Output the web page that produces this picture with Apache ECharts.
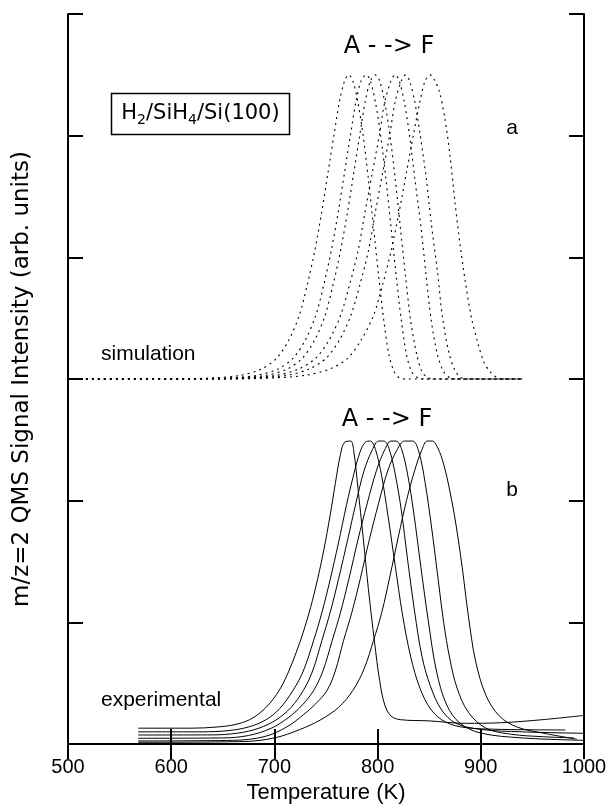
<!DOCTYPE html>
<html>
<head>
<meta charset="utf-8">
<script src="https://cdn.jsdelivr.net/npm/echarts@6/dist/echarts.min.js"></script>
<style>html,body{margin:0;padding:0;background:#fff}#c{width:608px;height:808px}</style>
</head>
<body>
<div id="c"></div>
<script>
// ---- data ----
const xTicks = [500, 600, 700, 800, 900, 1000];
const curveNames = ['A', 'B', 'C', 'D', 'E', 'F'];
const simOffset = 3; // simulation panel sits above the experimental one

// simulation (relative intensity above panel baseline), [T (K), value]
const simA = [[500,0],[602,0],[642,0.01],[667,0.03],[687,0.08],[702,0.17],[714,0.32],[724,0.52],[732,0.78],[739,1.05],[746,1.38],[752,1.7],[758,2.02],[763,2.28],[768,2.45],[772,2.5],[776,2.45],[781,2.27],[786,2.0],[791,1.65],[796,1.25],[801,0.85],[806,0.48],[811,0.2],[816,0.06],[821,0.01],[827,0],[940,0]];
const simB = [[500,0],[615,0],[657,0.01],[683,0.03],[703,0.08],[718,0.17],[730,0.32],[740,0.52],[748,0.78],[755,1.05],[762,1.38],[768,1.7],[774,2.02],[779,2.28],[784,2.45],[789,2.5],[793,2.45],[798,2.27],[803,2.0],[808,1.65],[813,1.25],[818,0.85],[823,0.48],[828,0.2],[833,0.06],[839,0.01],[845,0],[940,0]];
const simC = [[500,0],[625,0],[666,0.01],[692,0.03],[712,0.08],[727,0.17],[739,0.32],[749,0.52],[757,0.78],[764,1.05],[771,1.38],[777,1.7],[783,2.02],[788,2.28],[793,2.45],[798,2.5],[802,2.45],[807,2.27],[812,2.0],[817,1.65],[822,1.25],[827,0.85],[832,0.48],[838,0.2],[843,0.06],[849,0.01],[855,0],[940,0]];
const simD = [[500,0],[635,0],[674,0.01],[702,0.03],[723,0.08],[740,0.17],[753,0.32],[764,0.52],[773,0.78],[781,1.05],[788,1.38],[795,1.7],[802,2.02],[807,2.28],[813,2.45],[817,2.5],[821,2.45],[826,2.27],[831,2.0],[836,1.65],[842,1.25],[847,0.85],[852,0.48],[858,0.2],[864,0.06],[870,0.01],[877,0],[940,0]];
const simE = [[500,0],[645,0],[684,0.01],[712,0.03],[733,0.08],[750,0.17],[763,0.32],[774,0.52],[783,0.78],[791,1.05],[798,1.38],[805,1.7],[812,2.02],[817,2.28],[823,2.45],[827,2.5],[831,2.45],[836,2.28],[841,2.02],[847,1.66],[852,1.28],[858,0.88],[863,0.5],[869,0.22],[875,0.07],[881,0.01],[888,0],[940,0]];
const simF = [[500,0],[655,0],[701,0.01],[730,0.03],[753,0.08],[771,0.17],[784,0.32],[796,0.52],[805,0.78],[813,1.05],[821,1.38],[828,1.7],[835,2.02],[841,2.28],[846,2.45],[851,2.5],[855,2.46],[860,2.36],[865,2.15],[870,1.85],[875,1.45],[880,1.1],[885,0.8],[891,0.5],[897,0.3],[903,0.14],[909,0.06],[916,0.01],[923,0],[940,0]];

// experimental, [T (K), value]
const expA = [[568,0.13],[620,0.13],[645,0.14],[662,0.16],[676,0.2],[688,0.27],[698,0.36],[706,0.46],[714,0.6],[721,0.75],[728,0.92],[735,1.12],[742,1.36],[748,1.6],[754,1.88],[759,2.14],[764,2.38],[768,2.48],[774,2.49],[777,2.4],[781,2.1],[786,1.7],[791,1.28],[797,0.84],[802,0.52],[807,0.32],[813,0.23],[822,0.2],[850,0.19],[885,0.17],[920,0.175],[960,0.2],[1000,0.235]];
const expB = [[568,0.10],[630,0.10],[655,0.11],[675,0.14],[692,0.2],[705,0.29],[718,0.44],[728,0.6],[738,0.85],[746,1.08],[754,1.35],[762,1.65],[770,1.97],[777,2.22],[783,2.4],[788,2.48],[793,2.49],[798,2.42],[804,2.2],[810,1.88],[817,1.47],[824,1.07],[832,0.72],[841,0.46],[852,0.28],[866,0.18],[885,0.135],[920,0.12],[950,0.117],[982,0.115]];
const expC = [[568,0.074],[640,0.075],[665,0.09],[685,0.13],[702,0.2],[716,0.3],[728,0.44],[737,0.6],[746,0.85],[754,1.08],[762,1.35],[771,1.68],[779,1.98],[787,2.25],[795,2.42],[801,2.49],[806,2.49],[811,2.43],[817,2.22],[823,1.92],[829,1.52],[836,1.08],[843,0.72],[851,0.48],[862,0.28],[876,0.17],[900,0.12],[940,0.1],[1000,0.088]];
const expD = [[568,0.047],[650,0.05],[675,0.07],[697,0.13],[714,0.22],[727,0.32],[738,0.44],[747,0.6],[756,0.85],[764,1.08],[772,1.35],[781,1.68],[790,1.98],[799,2.25],[807,2.42],[813,2.49],[818,2.49],[823,2.43],[829,2.22],[835,1.9],[842,1.45],[849,1.02],[857,0.6],[867,0.32],[880,0.17],[900,0.09],[940,0.05],[1000,0.03]];
const expE = [[568,0.025],[660,0.03],[690,0.06],[712,0.14],[728,0.24],[740,0.33],[751,0.44],[759,0.6],[767,0.85],[775,1.08],[783,1.35],[792,1.68],[801,1.98],[810,2.25],[819,2.42],[826,2.49],[834,2.49],[840,2.4],[846,2.15],[852,1.8],[858,1.4],[864,1.0],[870,0.7],[877,0.46],[888,0.26],[905,0.13],[930,0.08],[960,0.06],[990,0.05]];
const expF = [[568,0.014],[670,0.02],[700,0.05],[725,0.12],[745,0.2],[762,0.3],[776,0.44],[787,0.62],[796,0.85],[804,1.08],[812,1.38],[820,1.7],[828,2.0],[836,2.25],[843,2.42],[848,2.49],[853,2.49],[858,2.44],[864,2.3],[870,2.08],[876,1.8],[882,1.45],[888,1.05],[895,0.68],[905,0.4],[918,0.23],[935,0.14],[960,0.09],[993,0.04]];

const simCurves = [simA, simB, simC, simD, simE, simF];
const expCurves = [expA, expB, expC, expD, expE, expF];

// ---- chart ----
const chart = echarts.init(document.getElementById('c'), null, {renderer: 'canvas'});
const black = '#000';
const sans = '"Liberation Sans", Arial, sans-serif';
const dvs = '"DejaVu Sans", sans-serif';

const series = [];
simCurves.forEach((d, i) => {
  series.push({
    name: 'sim ' + curveNames[i], type: 'line', showSymbol: false, smooth: 0.3,
    data: d.map(p => [p[0], p[1] + simOffset]),
    lineStyle: {color: black, width: 1.1, type: [2, 4]}, silent: true, animation: false
  });
});
expCurves.forEach((d, i) => {
  series.push({
    name: 'exp ' + curveNames[i], type: 'line', showSymbol: false, smooth: 0.35,
    data: d,
    lineStyle: {color: black, width: 1}, silent: true, animation: false
  });
});

const axisLine = {show: true, lineStyle: {color: black, width: 2}};
const tick = {show: true, inside: true, length: 15, lineStyle: {color: black, width: 2}};

chart.setOption({
  animation: false,
  backgroundColor: '#fff',
  grid: {left: 68, right: 24, top: 14, bottom: 64, containLabel: false, outerBoundsMode: 'none'},
  xAxis: [{
    type: 'value', min: xTicks[0], max: xTicks[xTicks.length - 1], interval: 100,
    position: 'bottom', axisLine, axisTick: tick, splitLine: {show: false},
    axisLabel: {color: black, fontFamily: sans, fontSize: 20, margin: 13, formatter: v => String(v)},
    name: 'Temperature (K)', nameLocation: 'middle', nameGap: 36,
    nameTextStyle: {color: black, fontFamily: sans, fontSize: 22}
  }, {
    type: 'value', min: xTicks[0], max: xTicks[xTicks.length - 1], interval: 100,
    position: 'top', axisLine, axisTick: tick, axisLabel: {show: false}, splitLine: {show: false}
  }],
  yAxis: [{
    type: 'value', min: 0, max: 6, interval: 1, position: 'left',
    axisLine, axisTick: tick, axisLabel: {show: false}, splitLine: {show: false},
    name: 'm/z=2 QMS Signal Intensity (arb. units)', nameLocation: 'middle', nameGap: 34, nameRotate: 90,
    nameTextStyle: {color: black, fontFamily: dvs, fontSize: 23}
  }, {
    type: 'value', min: 0, max: 6, interval: 1, position: 'right',
    axisLine, axisTick: tick, axisLabel: {show: false}, splitLine: {show: false}
  }],
  series,
  graphic: [
    {type: 'rect', shape: {x: 111.5, y: 93.5, width: 178, height: 41}, style: {fill: 'none', stroke: black, lineWidth: 1.5}, z: 100},
    {type: 'text', x: 200.5, y: 114, z: 101, style: {
      text: '{n|H}{s|2}{n|/SiH}{s|4}{n|/Si(100)}', align: 'center', verticalAlign: 'middle', fill: black,
      rich: {
        n: {fontFamily: dvs, fontSize: 21, lineHeight: 26, fill: black},
        s: {fontFamily: dvs, fontSize: 14, lineHeight: 14, verticalAlign: 'bottom', fill: black}
      }
    }},
    {type: 'text', x: 389, y: 47, z: 101, style: {text: 'A - -> F', font: '24px ' + dvs, align: 'center', verticalAlign: 'middle', fill: black}},
    {type: 'text', x: 387, y: 420, z: 101, style: {text: 'A - -> F', font: '24px ' + dvs, align: 'center', verticalAlign: 'middle', fill: black}},
    {type: 'text', x: 512, y: 128, z: 101, style: {text: 'a', font: '21px ' + sans, align: 'center', verticalAlign: 'middle', fill: black}},
    {type: 'text', x: 512, y: 490, z: 101, style: {text: 'b', font: '21px ' + sans, align: 'center', verticalAlign: 'middle', fill: black}},
    {type: 'text', x: 101, y: 354, z: 101, style: {text: 'simulation', font: '21px ' + sans, align: 'left', verticalAlign: 'middle', fill: black}},
    {type: 'text', x: 101, y: 700, z: 101, style: {text: 'experimental', font: '21px ' + sans, align: 'left', verticalAlign: 'middle', fill: black}}
  ]
});
</script>
</body>
</html>
